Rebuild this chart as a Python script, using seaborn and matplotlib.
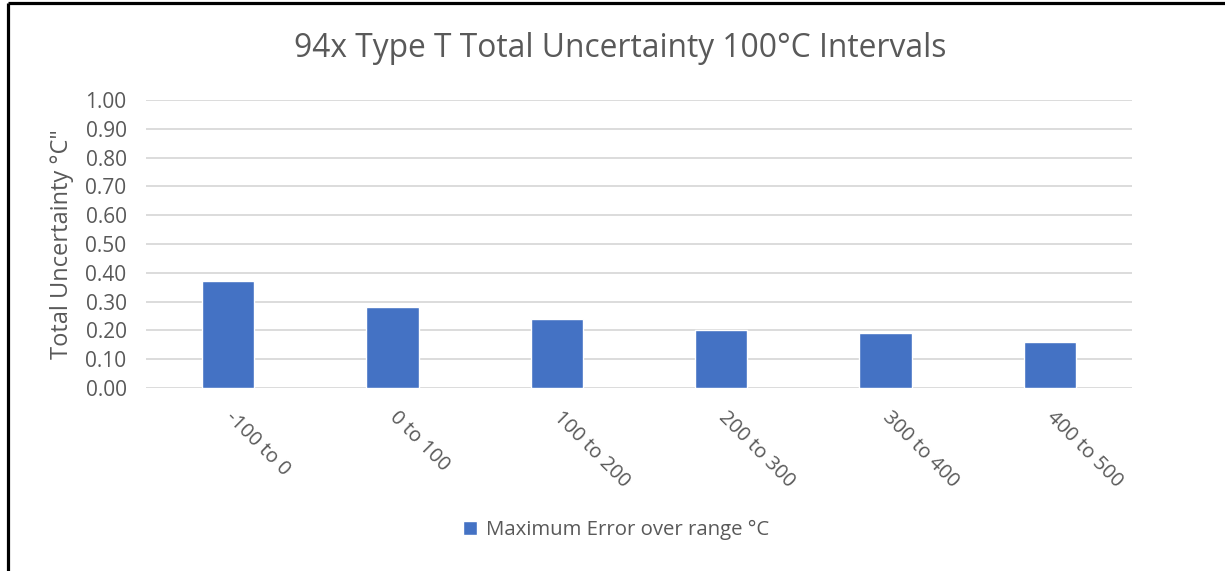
import matplotlib
matplotlib.use("Agg")
import matplotlib.pyplot as plt
from matplotlib.lines import Line2D
import seaborn as sns
import pandas as pd

# Temperature intervals (°C) and the maximum error over each range
categories = ["-100 to 0", "0 to 100", "100 to 200", "200 to 300", "300 to 400", "400 to 500"]
max_error = [0.37, 0.28, 0.24, 0.20, 0.19, 0.16]
y_ticks = [0.0, 0.1, 0.2, 0.3, 0.4, 0.5, 0.6, 0.7, 0.8, 0.9, 1.0]

series_name = "Maximum Error over range °C"
title = "94x Type T Total Uncertainty 100°C Intervals"
y_label = "Total Uncertainty °C\""

sns.set_theme(style="white")
plt.rcParams["font.family"] = ["Open Sans", "DejaVu Sans"]

text_color = "#595959"
grid_color = "#d9d9d9"
bar_color = "#4472C4"

df = pd.DataFrame({"range": categories, "error": max_error})

fig = plt.figure(figsize=(12.25, 5.71), dpi=100)
ax = fig.add_axes([0.1192, 0.3205, 0.8049, 0.5044])

sns.barplot(data=df, x="range", y="error", color=bar_color, saturation=1,
            width=0.317, label=series_name, ax=ax, zorder=3)

ax.set_ylim(0, 1.0)
ax.set_xlim(-0.5, len(categories) - 0.5)
ax.set_yticks(y_ticks)
ax.set_yticklabels([f"{v:.2f}" for v in y_ticks], color=text_color, fontsize=15)
ax.yaxis.grid(True, color=grid_color, linewidth=1.3, zorder=0)
ax.xaxis.grid(False)
for s in ax.spines.values():
    s.set_visible(False)
ax.tick_params(axis="y", length=0, pad=14)
ax.tick_params(axis="x", length=0, pad=19)

ax.set_xticks(range(len(categories)))
ax.set_xticklabels(categories, rotation=-45, ha="left", va="center",
                   rotation_mode="anchor", color=text_color, fontsize=14.5)

ax.set_xlabel("")
ax.set_ylabel(y_label, color=text_color, fontsize=17, labelpad=2)
ax.yaxis.set_label_coords(-0.073, 0.5)

fig.text(0.506, 0.915, title, ha="center", va="center", color=text_color, fontsize=22.9)

leg = ax.legend(loc="center", bbox_to_anchor=(0.503, 0.072), bbox_transform=fig.transFigure,
                frameon=False, fontsize=14.7, handlelength=0.65, handleheight=0.65,
                handletextpad=0.45, labelcolor=text_color)

# Frame lines along the left and top edges of the figure
fig.add_artist(Line2D([8 / 1225, 8 / 1225], [0, 1 - 2.5 / 571], transform=fig.transFigure,
                      color="black", linewidth=2.3, solid_capstyle="butt"))
fig.add_artist(Line2D([8 / 1225, 1], [1 - 2.5 / 571, 1 - 2.5 / 571], transform=fig.transFigure,
                      color="black", linewidth=2.3, solid_capstyle="butt"))

fig.savefig("out.png", dpi=100, facecolor="white")
